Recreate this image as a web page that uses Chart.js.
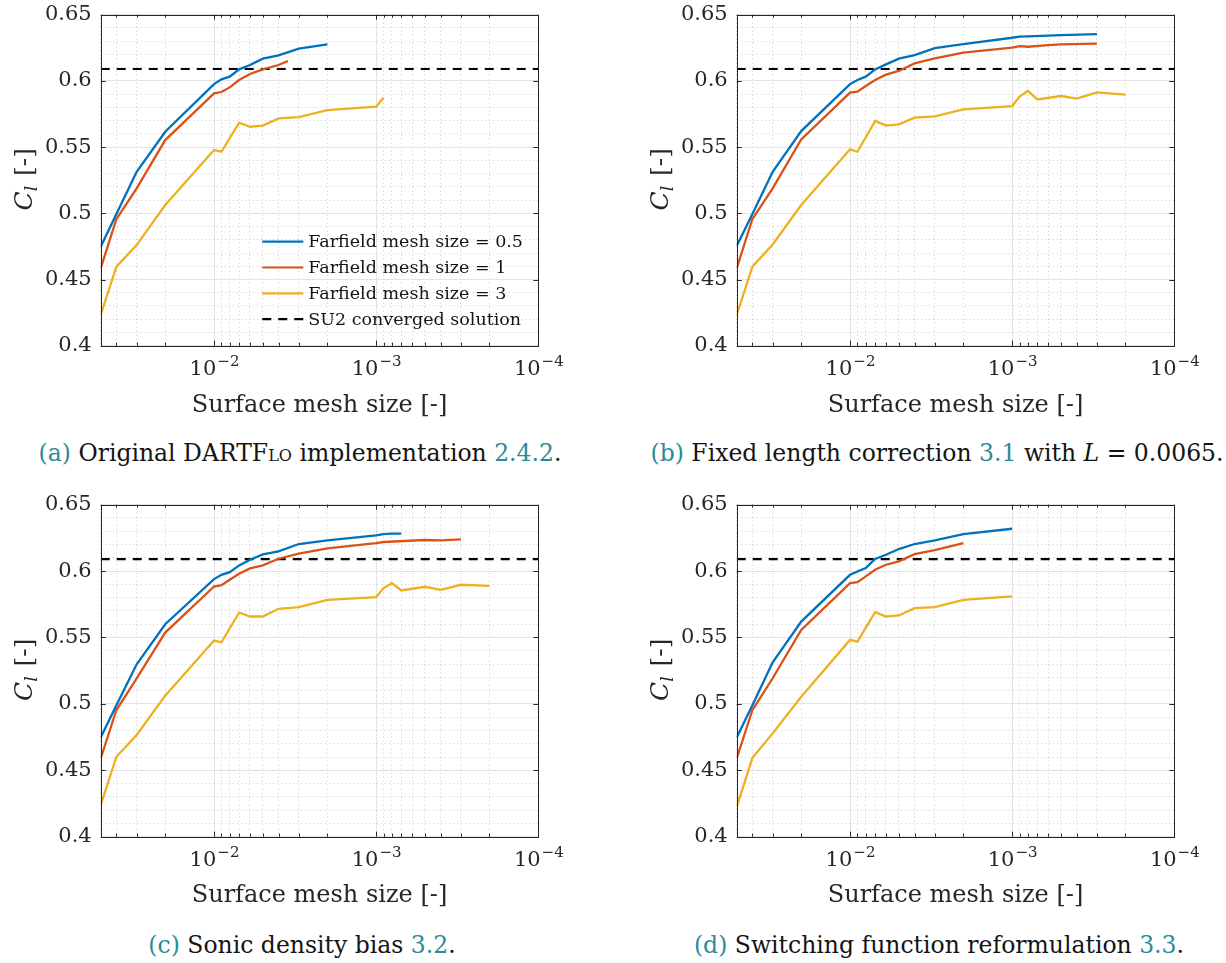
<!DOCTYPE html>
<html>
<head>
<meta charset="utf-8">
<script src="https://cdn.jsdelivr.net/npm/chart.js@4.4.0/dist/chart.umd.min.js"></script>
<style>
  html, body { margin: 0; padding: 0; background: #fff; }
  #page { position: relative; width: 1226px; height: 963px; overflow: hidden; }
  #page canvas { position: absolute; }
  .caption {
    position: absolute; width: 640px; text-align: center; white-space: nowrap;
    font-family: "DejaVu Serif", "Liberation Serif", serif; font-size: 23.5px; line-height: 34px; color: #141414;
  }
  .ref { color: #2a8c99; }
  .sc { font-variant: small-caps; }
</style>
</head>
<body>
<div id="page">
  <canvas id="chartA" width="613" height="430" style="left:0px;top:0px"></canvas>
  <canvas id="chartB" width="606" height="430" style="left:620px;top:0px"></canvas>
  <canvas id="chartC" width="613" height="430" style="left:0px;top:490px"></canvas>
  <canvas id="chartD" width="606" height="430" style="left:620px;top:490px"></canvas>

  <div class="caption" style="left:-20px;top:436px"><span class="ref">(a)</span> Original DARTF<span class="sc">lo</span> implementation <span class="ref">2.4.2</span>.</div>
  <div class="caption" style="left:617px;top:436px"><span class="ref">(b)</span> Fixed length correction <span class="ref">3.1</span> with <i>L</i> = 0.0065.</div>
  <div class="caption" style="left:-18px;top:928px"><span class="ref">(c)</span> Sonic density bias <span class="ref">3.2</span>.</div>
  <div class="caption" style="left:619px;top:928px"><span class="ref">(d)</span> Switching function reformulation <span class="ref">3.3</span>.</div>
</div>

<script>
// axis limits and reference level
const xMin = 1e-4;
const xMax = 0.05;
const yMin = 0.4;
const yMax = 0.65;
const su2Cl = 0.609;

// tick labels
const xMajorTicks = [1e-2, 1e-3, 1e-4];
const xTickExponents = ['\u22122', '\u22123', '\u22124'];
const yTickLabels = ['0.4', '0.45', '0.5', '0.55', '0.6', '0.65'];

// legend entries and colours
const seriesLabels = ['Farfield mesh size = 0.5', 'Farfield mesh size = 1', 'Farfield mesh size = 3', 'SU2 converged solution'];
const seriesColors = ['#0072BD', '#D95319', '#EDB120', '#000000'];

// (a) Original DARTFlo implementation
const aBlueX = [0.05, 0.04, 0.03, 0.02, 0.01, 0.009, 0.008, 0.007, 0.006, 0.005, 0.004, 0.003, 0.002];
const aBlueY = [0.4748, 0.4995, 0.5314, 0.5616, 0.5976, 0.6012, 0.6032, 0.6087, 0.612, 0.6168, 0.6193, 0.6243, 0.6276];
const aRedX = [0.05, 0.04, 0.03, 0.02, 0.01, 0.009, 0.008, 0.007, 0.006, 0.005, 0.004, 0.0035];
const aRedY = [0.4584, 0.4957, 0.5188, 0.5553, 0.5906, 0.5916, 0.5951, 0.6007, 0.6052, 0.6087, 0.612, 0.615];
const aYellowX = [0.05, 0.04, 0.03, 0.02, 0.01, 0.009, 0.007, 0.006, 0.005, 0.004, 0.003, 0.002, 0.001, 0.0009];
const aYellowY = [0.4232, 0.4597, 0.476, 0.5062, 0.5478, 0.5465, 0.5684, 0.5654, 0.5662, 0.5717, 0.5727, 0.578, 0.5805, 0.5873];

// (b) Fixed length correction
const bBlueX = [0.05, 0.04, 0.03, 0.02, 0.01, 0.009, 0.008, 0.007, 0.006, 0.005, 0.004, 0.003, 0.002, 0.001, 0.0009, 0.0008, 0.0006, 0.0005, 0.0003];
const bBlueY = [0.4753, 0.4995, 0.5314, 0.5621, 0.5976, 0.6007, 0.6032, 0.6087, 0.6125, 0.6168, 0.6195, 0.6248, 0.6278, 0.6326, 0.6334, 0.6336, 0.6342, 0.6346, 0.6354];
const bRedX = [0.05, 0.04, 0.03, 0.02, 0.01, 0.009, 0.008, 0.007, 0.006, 0.005, 0.004, 0.003, 0.002, 0.001, 0.0009, 0.0008, 0.0006, 0.0005, 0.0003];
const bRedY = [0.4584, 0.4957, 0.5188, 0.5558, 0.5911, 0.5918, 0.5961, 0.6007, 0.6047, 0.6075, 0.6132, 0.617, 0.6213, 0.6251, 0.6263, 0.6258, 0.627, 0.6276, 0.6281];
const bYellowX = [0.05, 0.04, 0.03, 0.02, 0.01, 0.009, 0.007, 0.006, 0.005, 0.004, 0.003, 0.002, 0.001, 0.0009, 0.0008, 0.0007, 0.0005, 0.0004, 0.0003, 0.0002];
const bYellowY = [0.4232, 0.4597, 0.4765, 0.5062, 0.5483, 0.5465, 0.5697, 0.5662, 0.5672, 0.5722, 0.5732, 0.5785, 0.581, 0.5881, 0.5926, 0.586, 0.5886, 0.5866, 0.5913, 0.5896];

// (c) Sonic density bias
const cBlueX = [0.05, 0.04, 0.03, 0.02, 0.01, 0.009, 0.008, 0.007, 0.006, 0.005, 0.004, 0.003, 0.002, 0.001, 0.0009, 0.0008, 0.0007];
const cBlueY = [0.4747, 0.499, 0.5298, 0.56, 0.594, 0.5972, 0.5992, 0.6043, 0.6086, 0.6126, 0.6148, 0.6204, 0.6231, 0.6269, 0.6279, 0.6282, 0.6282];
const cRedX = [0.05, 0.04, 0.03, 0.02, 0.01, 0.009, 0.008, 0.007, 0.006, 0.005, 0.004, 0.003, 0.002, 0.001, 0.0009, 0.0005, 0.0004, 0.0003];
const cRedY = [0.4589, 0.4954, 0.5193, 0.5537, 0.5884, 0.5894, 0.5935, 0.598, 0.602, 0.6043, 0.6093, 0.6131, 0.6171, 0.6211, 0.6219, 0.6234, 0.6231, 0.6239];
const cYellowX = [0.05, 0.04, 0.03, 0.02, 0.01, 0.009, 0.007, 0.006, 0.005, 0.004, 0.003, 0.002, 0.001, 0.0009, 0.0008, 0.0007, 0.0005, 0.0004, 0.0003, 0.0002];
const cYellowY = [0.4237, 0.4602, 0.4766, 0.5062, 0.5477, 0.5464, 0.5688, 0.5658, 0.5658, 0.5716, 0.5728, 0.5784, 0.5804, 0.5872, 0.5909, 0.5854, 0.5882, 0.5859, 0.5897, 0.5889];

// (d) Switching function reformulation
const dBlueX = [0.05, 0.04, 0.03, 0.02, 0.01, 0.009, 0.008, 0.007, 0.006, 0.005, 0.004, 0.003, 0.002, 0.001];
const dBlueY = [0.4747, 0.499, 0.5313, 0.562, 0.5972, 0.5997, 0.6023, 0.6091, 0.6123, 0.6166, 0.6204, 0.6231, 0.6279, 0.6319];
const dRedX = [0.05, 0.04, 0.03, 0.02, 0.01, 0.009, 0.008, 0.007, 0.006, 0.005, 0.004, 0.003, 0.002];
const dRedY = [0.4589, 0.4954, 0.5193, 0.5557, 0.5909, 0.5917, 0.596, 0.601, 0.6048, 0.6073, 0.6128, 0.6158, 0.6211];
const dYellowX = [0.05, 0.04, 0.03, 0.02, 0.01, 0.009, 0.007, 0.006, 0.005, 0.004, 0.003, 0.002, 0.001];
const dYellowY = [0.4224, 0.4594, 0.4778, 0.5054, 0.5482, 0.5469, 0.5691, 0.5658, 0.5666, 0.5721, 0.5728, 0.5784, 0.5809];

// styling
const FONT = '"DejaVu Serif", "Liberation Serif", serif';
const axisColor = '#262626';
const majorGridColor = '#e3e3e3';
const minorGridColor = '#cdcdcd';

function mantissa(v) {
  const e = Math.floor(Math.log10(v) + 1e-9);
  return v / Math.pow(10, e);
}
function isDecade(v) {
  return Math.abs(mantissa(v) - 1) < 1e-6;
}
function isWholeMantissa(v) {
  const m = mantissa(v);
  return Math.abs(m - Math.round(m)) < 1e-6;
}
function isMajorY(v) {
  return Math.abs(v * 20 - Math.round(v * 20)) < 1e-6;
}

// axes box, inward tick marks, 10^n labels and the C_l title
const axesDecorPlugin = {
  id: 'axesDecor',
  afterDatasetsDraw(chart) {
    const { ctx, chartArea: a, scales: { x, y } } = chart;
    ctx.save();
    ctx.strokeStyle = axisColor;
    ctx.lineWidth = 1;
    ctx.setLineDash([]);
    ctx.beginPath();
    y.ticks.forEach(t => {
      if (!isMajorY(t.value)) return;
      const py = Math.round(y.getPixelForValue(t.value)) + 0.5;
      ctx.moveTo(a.left, py); ctx.lineTo(a.left + 5, py);
      ctx.moveTo(a.right, py); ctx.lineTo(a.right - 5, py);
    });
    x.ticks.forEach(t => {
      if (!isWholeMantissa(t.value)) return;
      const len = isDecade(t.value) ? 5 : 3;
      const px = Math.round(x.getPixelForValue(t.value)) + 0.5;
      ctx.moveTo(px, a.bottom); ctx.lineTo(px, a.bottom - len);
      ctx.moveTo(px, a.top); ctx.lineTo(px, a.top + len);
    });
    ctx.stroke();
    ctx.strokeRect(Math.round(a.left) + 0.5, Math.round(a.top) + 0.5,
      Math.round(a.right) - Math.round(a.left), Math.round(a.bottom) - Math.round(a.top));

    // x tick labels: 10 with a raised exponent
    ctx.fillStyle = axisColor;
    ctx.textBaseline = 'alphabetic';
    ctx.textAlign = 'left';
    xMajorTicks.forEach((v, i) => {
      const px = x.getPixelForValue(v);
      ctx.font = '21px ' + FONT;
      const w1 = ctx.measureText('10').width;
      ctx.font = '15px ' + FONT;
      const w2 = ctx.measureText(xTickExponents[i]).width;
      const start = px - (w1 + w2) / 2;
      const base = a.bottom + 29;
      ctx.font = '21px ' + FONT;
      ctx.fillText('10', start, base);
      ctx.font = '15px ' + FONT;
      ctx.fillText(xTickExponents[i], start + w1 + 1, base - 9);
    });

    // y title C_l [-]
    ctx.translate(a.left - 78, (a.top + a.bottom) / 2);
    ctx.rotate(-Math.PI / 2);
    ctx.font = 'italic 25px ' + FONT;
    const wC = ctx.measureText('C').width;
    ctx.font = 'italic 17px ' + FONT;
    const wl = ctx.measureText('l').width;
    ctx.font = '25px ' + FONT;
    const wb = ctx.measureText(' [-]').width;
    const sx = -(wC + wl + wb) / 2;
    ctx.font = 'italic 25px ' + FONT;
    ctx.fillText('C', sx, 9);
    ctx.font = 'italic 17px ' + FONT;
    ctx.fillText('l', sx + wC, 14);
    ctx.font = '25px ' + FONT;
    ctx.fillText(' [-]', sx + wC + wl + 2, 9);
    ctx.restore();
  }
};

// in-axes legend, lower right, no frame
const insideLegendPlugin = {
  id: 'insideLegend',
  afterDraw(chart, args, opts) {
    if (!opts.show) return;
    const { ctx, chartArea: a } = chart;
    const lx = a.right - 276;
    const ly0 = a.bottom - 104;
    const dy = 25.8;
    ctx.save();
    ctx.font = '17.5px ' + FONT;
    ctx.textBaseline = 'middle';
    ctx.textAlign = 'left';
    chart.data.datasets.forEach((ds, i) => {
      const yy = ly0 + i * dy;
      ctx.strokeStyle = ds.borderColor;
      ctx.lineWidth = 2.2;
      ctx.setLineDash(ds.borderDash || []);
      ctx.beginPath();
      ctx.moveTo(lx, yy);
      ctx.lineTo(lx + 41, yy);
      ctx.stroke();
      ctx.setLineDash([]);
      ctx.fillStyle = '#141414';
      ctx.fillText(ds.label, lx + 46, yy + 1);
    });
    ctx.restore();
  }
};

function makePanel(id, series, geo, showLegend) {
  const canvas = document.getElementById(id);
  const datasets = series.map((s, i) => ({
    label: seriesLabels[i],
    data: s.x.map((xv, k) => ({ x: xv, y: s.y[k] })),
    borderColor: seriesColors[i],
    borderWidth: 2.3,
    pointRadius: 0,
    tension: 0,
    fill: false
  }));
  datasets.push({
    label: seriesLabels[3],
    data: [{ x: xMax, y: su2Cl }, { x: xMin, y: su2Cl }],
    borderColor: seriesColors[3],
    borderWidth: 2.2,
    borderDash: [9, 7],
    pointRadius: 0,
    fill: false
  });

  return new Chart(canvas.getContext('2d'), {
    type: 'line',
    data: { datasets },
    plugins: [axesDecorPlugin, insideLegendPlugin],
    options: {
      responsive: false,
      animation: false,
      layout: {
        padding: { left: 0, top: geo.top, right: canvas.width - geo.right, bottom: 0 }
      },
      plugins: {
        legend: { display: false },
        tooltip: { enabled: false },
        insideLegend: { show: showLegend }
      },
      scales: {
        x: {
          type: 'logarithmic',
          min: xMin,
          max: xMax,
          reverse: true,
          afterFit: s => { s.height = canvas.height - geo.bottom; s.paddingLeft = 0; s.paddingRight = 0; },
          ticks: { display: false, autoSkip: false },
          grid: {
            drawTicks: false,
            lineWidth: 1,
            color: c => {
              if (!c.tick || !isWholeMantissa(c.tick.value)) return 'rgba(0,0,0,0)';
              return isDecade(c.tick.value) ? majorGridColor : minorGridColor;
            }
          },
          border: {
            display: false,
            dash: c => (c.tick && !isDecade(c.tick.value)) ? [1, 3] : []
          },
          title: {
            display: true,
            text: 'Surface mesh size [-]',
            color: axisColor,
            font: { family: FONT, size: 24 },
            padding: { top: 0, bottom: 10 }
          }
        },
        y: {
          type: 'linear',
          min: yMin,
          max: yMax,
          afterFit: s => { s.width = geo.left; s.paddingTop = 0; s.paddingBottom = 0; },
          ticks: {
            stepSize: 0.01,
            autoSkip: false,
            padding: 9,
            color: axisColor,
            font: { family: FONT, size: 21 },
            callback: v => isMajorY(v) ? yTickLabels[Math.round((v - yMin) * 20)] : ''
          },
          grid: {
            drawTicks: false,
            lineWidth: 1,
            color: c => (c.tick && isMajorY(c.tick.value)) ? majorGridColor : minorGridColor
          },
          border: {
            display: false,
            dash: c => (c.tick && !isMajorY(c.tick.value)) ? [1, 3] : []
          }
        }
      }
    }
  });
}

const rowTop = { top: 14.7, bottom: 345.7 };
const rowBottom = { top: 14.7, bottom: 346.7 };

makePanel('chartA', [
  { x: aBlueX, y: aBlueY }, { x: aRedX, y: aRedY }, { x: aYellowX, y: aYellowY }
], { left: 100.7, right: 538.3, ...rowTop }, true);

makePanel('chartB', [
  { x: bBlueX, y: bBlueY }, { x: bRedX, y: bRedY }, { x: bYellowX, y: bYellowY }
], { left: 116.7, right: 554.3, ...rowTop }, false);

makePanel('chartC', [
  { x: cBlueX, y: cBlueY }, { x: cRedX, y: cRedY }, { x: cYellowX, y: cYellowY }
], { left: 100.7, right: 538.3, ...rowBottom }, false);

makePanel('chartD', [
  { x: dBlueX, y: dBlueY }, { x: dRedX, y: dRedY }, { x: dYellowX, y: dYellowY }
], { left: 116.7, right: 554.3, ...rowBottom }, false);
</script>
</body>
</html>
